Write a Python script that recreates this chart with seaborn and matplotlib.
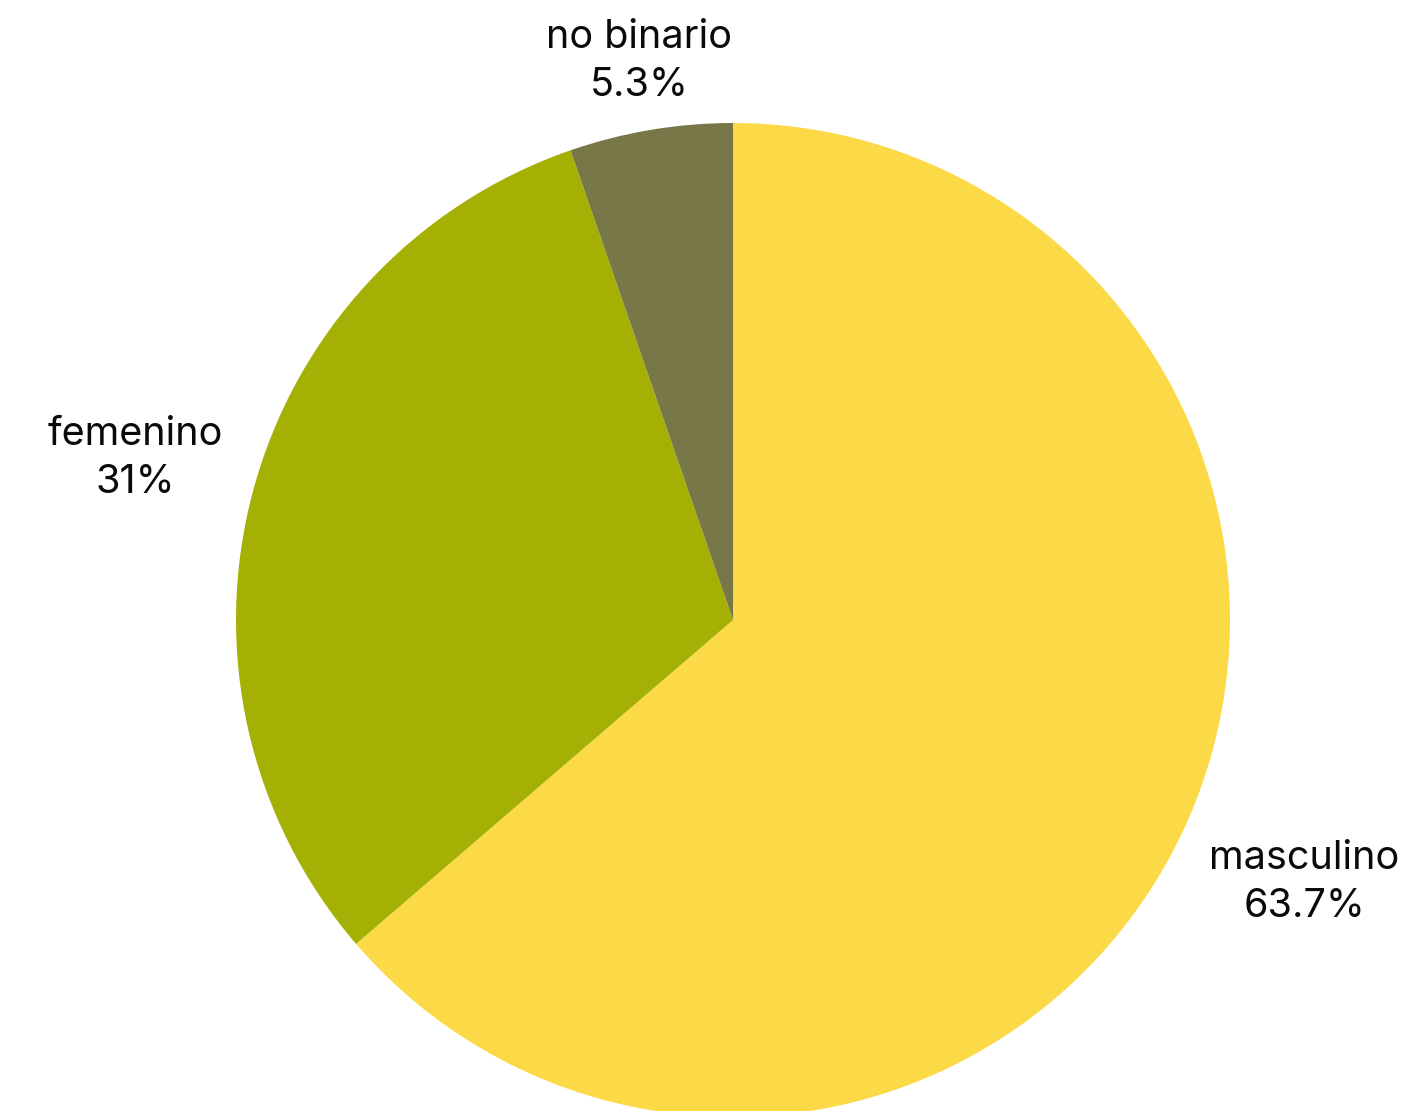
import numpy as np
import matplotlib
matplotlib.use("Agg")
import matplotlib.pyplot as plt
import seaborn as sns

sns.set_theme(style="white")
plt.rcParams["font.family"] = ["Inter", "DejaVu Sans"]

# Gender distribution
categories = ["masculino", "femenino", "no binario"]
shares = [63.7, 31.0, 5.3]
share_labels = ["63.7%", "31%", "5.3%"]
colors = ["#FCD947", "#A5B005", "#777748"]
label_radius = [1.265, 1.245, 1.14]

fig = plt.figure(figsize=(14.2, 11.11), dpi=100)
ax = fig.add_axes([0.1662, -0.0054, 0.7, 0.8947])

wedges, _ = ax.pie(shares, colors=colors, startangle=90, counterclock=False,
                   radius=1.0, wedgeprops=dict(linewidth=0))

for w, name, lab, r in zip(wedges, categories, share_labels, label_radius):
    mid = np.deg2rad((w.theta1 + w.theta2) / 2)
    ax.text(r * np.cos(mid), r * np.sin(mid), f"{name}\n{lab}",
            ha="center", va="center", fontsize=28.5, color="#0a0a0a",
            linespacing=1.38)

ax.set_xlim(-1, 1)
ax.set_ylim(-1, 1)
ax.set_aspect("equal")
ax.axis("off")

fig.savefig("out.png", dpi=100, facecolor="white")
